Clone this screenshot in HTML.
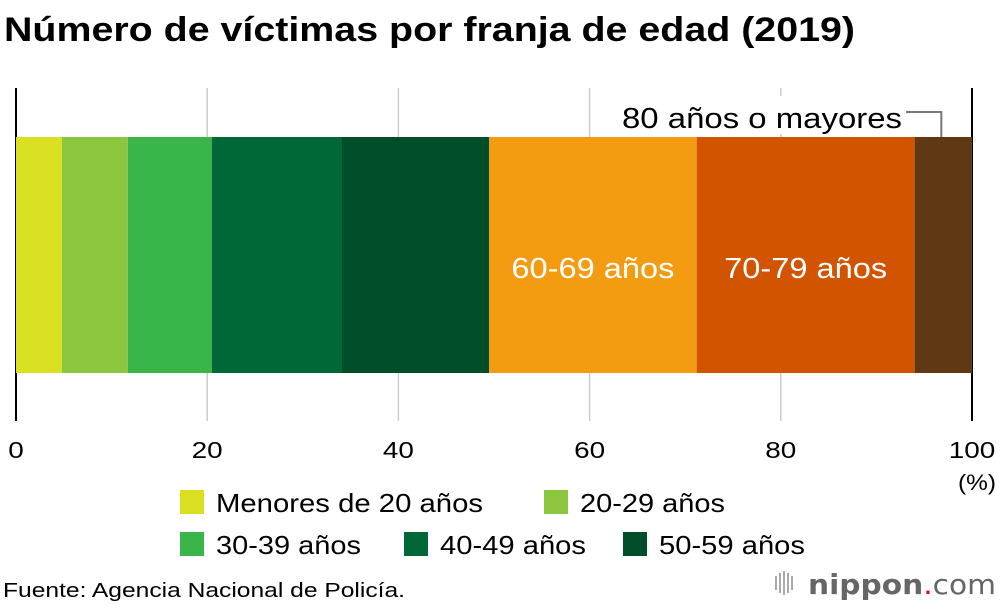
<!DOCTYPE html>
<html><head><meta charset="utf-8"><style>
body{margin:0;background:#fff;font-family:"Liberation Sans",sans-serif;}
#wrap{position:relative;width:1000px;height:610px;overflow:hidden;}
</style></head><body>
<div id="wrap">
<svg id="chart" width="1000" height="610" xmlns="http://www.w3.org/2000/svg">
<text x="4" y="41" font-size="34" font-weight="bold" fill="#000" textLength="851" lengthAdjust="spacingAndGlyphs" font-family="Liberation Sans, sans-serif">Número de víctimas por franja de edad (2019)</text>
<g id="grid"></g>
<g id="bars"></g>
<g id="labels"></g>
<g id="ticks"></g>
<text x="958" y="490" font-size="22" textLength="38" lengthAdjust="spacingAndGlyphs" font-family="Liberation Sans, sans-serif">(%)</text>
<g id="legend"></g>
<text x="3" y="597" font-size="20" textLength="402" lengthAdjust="spacingAndGlyphs" font-family="Liberation Sans, sans-serif">Fuente: Agencia Nacional de Policía.</text>
<g>
<rect x="775" y="576" width="2" height="14" fill="#aaa"/><rect x="779" y="573" width="2" height="20" fill="#aaa"/><rect x="783" y="571" width="2" height="24" fill="#aaa"/><rect x="787" y="573" width="2" height="20" fill="#aaa"/><rect x="791" y="576" width="2" height="14" fill="#aaa"/>
<text x="808" y="594" font-size="28" textLength="188" lengthAdjust="spacingAndGlyphs" font-family="DejaVu Sans, sans-serif" fill="#666"><tspan font-weight="bold">nippon</tspan><tspan fill="#e00">.</tspan><tspan>com</tspan></text>
</g>
</svg>
</div>
<script>
const categories = ["Menores de 20 años","20-29 años","30-39 años","40-49 años","50-59 años","60-69 años","70-79 años","80 años o mayores"];
const values = [4.8, 6.9, 8.8, 13.6, 15.4, 21.7, 22.8, 6.0];
const colors = ["#d9e021","#8cc63f","#39b54a","#006837","#004d2a","#f39c12","#d35400","#603813"];
const tickLabels = [0,20,40,60,80,100];
const NS="http://www.w3.org/2000/svg";
const x0=16,x1=972;
function xs(v){return x0+(x1-x0)*v/100;}
function mk(tag,attrs,parent){const e=document.createElementNS(NS,tag);for(const k in attrs)e.setAttribute(k,attrs[k]);parent.appendChild(e);return e;}
const grid=document.getElementById('grid'),bars=document.getElementById('bars'),labels=document.getElementById('labels'),ticks=document.getElementById('ticks'),legend=document.getElementById('legend');
tickLabels.forEach((t,i)=>{
  const x=xs(t);
  const l=mk('line',{x1:x,x2:x,y1:88,y2:421,stroke:(t===0||t===100)?'#000':'#ccc','stroke-width':(t===0||t===100)?2:1.5},grid);
  
  
  const w=String(t).length*15.5;
  const tx=mk('text',{x:x,y:458,'font-size':23,'text-anchor':'middle',textLength:w,lengthAdjust:'spacingAndGlyphs','font-family':'Liberation Sans, sans-serif'},ticks);
  tx.textContent=t;
  
  
});
let cum=0;
values.forEach((v,i)=>{
  const a=xs(cum),b=xs(cum+v);
  const r=mk('rect',{x:a,y:137,width:b-a,height:236,fill:colors[i]},bars);
  
  
  if(i===5||i===6){
    const t=mk('text',{x:(a+b)/2,y:278,'font-size':29,fill:'#fff','text-anchor':'middle',textLength:163,lengthAdjust:'spacingAndGlyphs','font-family':'Liberation Sans, sans-serif'},labels);
    t.textContent=categories[i];
    
    
  }
  if(i===7){
    const cx=(a+b)/2-2;
    const bg=mk('rect',{x:616,y:96,width:292,height:38,fill:'#fff'},labels);
    
    
    const p=mk('polyline',{points:'906,112 '+cx+',112 '+cx+',137',fill:'none',stroke:'#777','stroke-width':2},labels);
    
    
    const t=mk('text',{x:622,y:128,'font-size':29,textLength:280,lengthAdjust:'spacingAndGlyphs','font-family':'Liberation Sans, sans-serif'},labels);
    t.textContent=categories[i];
    
    
  }
  cum+=v;
});
const legPos=[[180,490],[544,490],[180,532],[404,532],[623,532]];
const legW=[267,145,145,146,146];
for(let i=0;i<5;i++){
  const [lx,ly]=legPos[i];
  const s=mk('rect',{x:lx,y:ly,width:24,height:24,fill:colors[i]},legend);
  
  
  const t=mk('text',{x:lx+36,y:ly+22,'font-size':26,textLength:legW[i],lengthAdjust:'spacingAndGlyphs','font-family':'Liberation Sans, sans-serif'},legend);
  t.textContent=categories[i];
  
  
}
</script>
</body></html>
